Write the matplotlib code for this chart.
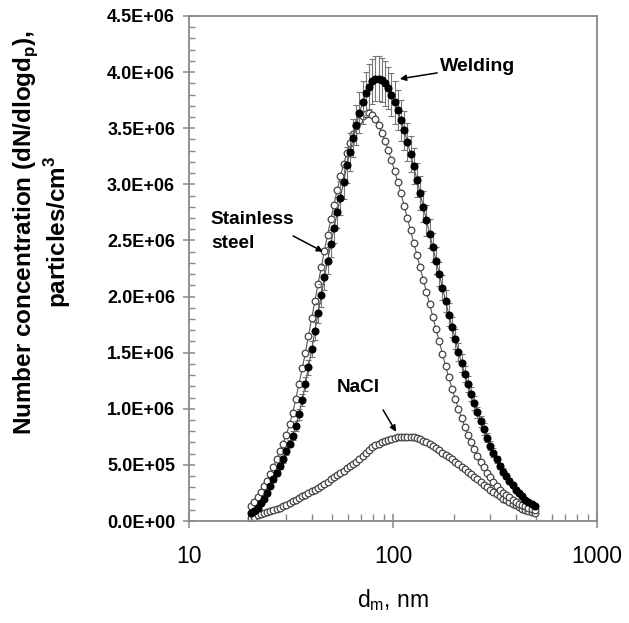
import matplotlib
matplotlib.use("Agg")
import matplotlib.pyplot as plt
from matplotlib.ticker import FuncFormatter, MultipleLocator, LogLocator, NullFormatter

plt.rcParams['font.family'] = ['Liberation Sans', 'DejaVu Sans']

# SMPS channel mid-point diameters (nm)
diam = [20.2, 20.9, 21.7, 22.5, 23.3, 24.1, 25.0, 25.9, 26.9, 27.9,
        28.9, 30.0, 31.1, 32.2, 33.4, 34.6, 35.9, 37.2, 38.5, 40.0,
        41.4, 42.9, 44.5, 46.1, 47.8, 49.6, 51.4, 53.3, 55.2, 57.3,
        59.4, 61.5, 63.8, 66.1, 68.5, 71.0, 73.7, 76.4, 79.1, 82.0,
        85.1, 88.2, 91.4, 94.7, 98.2, 101.8, 105.5, 109.4, 113.4, 117.6,
        121.9, 126.3, 131.0, 135.8, 140.7, 145.9, 151.2, 156.8, 162.5, 168.5,
        174.7, 181.1, 187.7, 194.6, 201.7, 209.1, 216.7, 224.7, 232.9, 241.4,
        250.3, 259.5, 269.0, 278.8, 289.0, 299.6, 310.6, 322.0, 333.8, 346.0,
        358.7, 371.8, 385.4, 399.5, 414.2, 429.4, 445.1, 461.4, 478.3, 495.8]

# values in units of 1e6 particles/cm3
welding = [0.07, 0.09, 0.12, 0.16, 0.20, 0.25, 0.31, 0.37, 0.43, 0.49,
           0.55, 0.62, 0.69, 0.76, 0.85, 0.95, 1.08, 1.22, 1.37, 1.53,
           1.69, 1.85, 2.01, 2.17, 2.32, 2.47, 2.61, 2.75, 2.88, 3.02,
           3.17, 3.29, 3.41, 3.53, 3.64, 3.73, 3.81, 3.87, 3.92, 3.94,
           3.94, 3.93, 3.90, 3.86, 3.80, 3.73, 3.66, 3.57, 3.48, 3.38,
           3.27, 3.16, 3.04, 2.92, 2.80, 2.68, 2.56, 2.44, 2.32, 2.20,
           2.08, 1.96, 1.84, 1.73, 1.62, 1.51, 1.41, 1.31, 1.22, 1.13,
           1.05, 0.97, 0.89, 0.82, 0.74, 0.67, 0.61, 0.55, 0.49, 0.44,
           0.40, 0.36, 0.32, 0.28, 0.25, 0.22, 0.19, 0.17, 0.15, 0.13]

welding_err = [0.01, 0.01, 0.01, 0.01, 0.01, 0.015, 0.015, 0.02, 0.02, 0.025,
               0.03, 0.03, 0.035, 0.04, 0.045, 0.05, 0.055, 0.06, 0.065, 0.07,
               0.08, 0.09, 0.10, 0.11, 0.12, 0.12, 0.13, 0.14, 0.15, 0.15,
               0.16, 0.17, 0.17, 0.18, 0.18, 0.19, 0.19, 0.20, 0.20, 0.20,
               0.20, 0.20, 0.20, 0.19, 0.19, 0.19, 0.18, 0.18, 0.17, 0.17,
               0.16, 0.16, 0.15, 0.15, 0.14, 0.14, 0.13, 0.13, 0.12, 0.11,
               0.11, 0.10, 0.10, 0.09, 0.09, 0.08, 0.08, 0.07, 0.07, 0.06,
               0.06, 0.05, 0.05, 0.05, 0.04, 0.04, 0.04, 0.03, 0.03, 0.03,
               0.03, 0.02, 0.02, 0.02, 0.02, 0.02, 0.01, 0.01, 0.01, 0.01]

stainless = [0.13, 0.17, 0.21, 0.26, 0.31, 0.36, 0.42, 0.48, 0.55, 0.62,
             0.69, 0.77, 0.86, 0.96, 1.09, 1.22, 1.36, 1.50, 1.65, 1.81,
             1.96, 2.11, 2.26, 2.41, 2.55, 2.69, 2.82, 2.95, 3.07, 3.18,
             3.28, 3.37, 3.45, 3.52, 3.57, 3.61, 3.63, 3.64, 3.62, 3.58,
             3.53, 3.46, 3.39, 3.31, 3.22, 3.12, 3.02, 2.92, 2.81, 2.70,
             2.59, 2.48, 2.37, 2.26, 2.15, 2.04, 1.93, 1.82, 1.71, 1.60,
             1.49, 1.38, 1.28, 1.18, 1.09, 1.00, 0.92, 0.84, 0.77, 0.70,
             0.64, 0.58, 0.53, 0.48, 0.43, 0.39, 0.35, 0.31, 0.28, 0.25,
             0.23, 0.21, 0.19, 0.17, 0.155, 0.14, 0.13, 0.12, 0.11, 0.10]

nacl = [0.03, 0.04, 0.05, 0.06, 0.07, 0.08, 0.09, 0.10, 0.11, 0.12,
        0.13, 0.145, 0.16, 0.175, 0.19, 0.205, 0.22, 0.235, 0.25, 0.265,
        0.28, 0.295, 0.31, 0.33, 0.35, 0.37, 0.39, 0.41, 0.43, 0.45,
        0.47, 0.49, 0.51, 0.53, 0.55, 0.58, 0.61, 0.635, 0.655, 0.675,
        0.69, 0.705, 0.715, 0.725, 0.733, 0.74, 0.745, 0.75, 0.752, 0.752,
        0.75, 0.745, 0.738, 0.728, 0.716, 0.70, 0.685, 0.67, 0.65, 0.63,
        0.61, 0.59, 0.57, 0.55, 0.53, 0.51, 0.48, 0.46, 0.44, 0.415,
        0.39, 0.37, 0.345, 0.32, 0.30, 0.28, 0.26, 0.24, 0.22, 0.20,
        0.185, 0.17, 0.155, 0.14, 0.125, 0.11, 0.10, 0.09, 0.08, 0.07]

SCALE = 1e6

fig = plt.figure(figsize=(6.29, 6.23), dpi=100)
ax = fig.add_axes([189/629, 1-521/623, (597-189)/629, (521-16)/623])

ax.set_xscale('log')
ax.set_xlim(10, 1000)
ax.set_ylim(0, 4.5e6)

sv = [v*SCALE for v in stainless]
nv = [v*SCALE for v in nacl]
wv = [v*SCALE for v in welding]
we = [v*SCALE for v in welding_err]

ax.plot(diam, nv, '-', color='#555555', lw=0.8, marker='o', ms=4.8,
        mfc='white', mec='#444444', mew=0.9, zorder=2)
ax.plot(diam, sv, '-', color='#555555', lw=0.8, marker='o', ms=4.8,
        mfc='white', mec='#444444', mew=0.9, zorder=3)
ax.errorbar(diam, wv, yerr=we, fmt='-o', color='#555555', lw=0.8,
            ms=4.8, mfc='black', mec='black', ecolor='#777777',
            elinewidth=0.8, capsize=2.5, capthick=0.8, zorder=4)

for s in ax.spines.values():
    s.set_color('#888888')
    s.set_linewidth(1.3)

ax.yaxis.set_major_locator(MultipleLocator(0.5e6))
ax.yaxis.set_minor_locator(MultipleLocator(0.1e6))
ax.yaxis.set_major_formatter(FuncFormatter(lambda v, p: f"{v:.1E}"))
ax.xaxis.set_major_locator(LogLocator(base=10, numticks=5))
ax.xaxis.set_minor_locator(LogLocator(base=10, subs=range(2, 10), numticks=20))
ax.xaxis.set_minor_formatter(NullFormatter())
ax.xaxis.set_major_formatter(FuncFormatter(lambda v, p: f"{v:.0f}"))

ax.tick_params(axis='y', which='major', direction='inout', length=8,
               width=1.1, color='#888888', labelsize=13, pad=6)
ax.tick_params(axis='y', which='minor', direction='in', length=4,
               width=1.0, color='#888888')
ax.tick_params(axis='x', which='major', direction='inout', length=10,
               width=1.1, color='#888888', labelsize=16.5, pad=12)
ax.tick_params(axis='x', which='minor', direction='in', length=5,
               width=1.0, color='#888888')
for lab in ax.get_yticklabels():
    lab.set_fontweight('bold')

ax.set_xlabel(r'd$_\mathregular{m}$, nm', fontsize=16.5, labelpad=14)

fig.text(42/629, 1-232/623,
         'Number concentration (dN/dlogd$_\\mathregular{p}$),\nparticles/cm$^\\mathregular{3}$',
         rotation=90, ha='center', va='center', fontsize=17.5,
         fontweight='bold', multialignment='center', linespacing=1.1)

arrow = dict(arrowstyle='-|>', color='black', lw=1.1, mutation_scale=9,
             shrinkA=0, shrinkB=0)
ax.annotate('Welding', xy=(108, 3.94e6), xytext=(170, 4.05e6),
            fontsize=14, fontweight='bold', ha='left', va='center',
            arrowprops=arrow)
ax.text(12.8, 2.58e6, 'Stainless\nsteel', fontsize=13.7, fontweight='bold',
        ha='left', va='center', linespacing=1.6)
ax.annotate('', xy=(45.4, 2.40e6), xytext=(32.4, 2.54e6), arrowprops=arrow)
ax.text(67.3, 1.19e6, 'NaCl', fontsize=13.7, fontweight='bold',
        ha='center', va='center')
ax.annotate('', xy=(103.5, 0.795e6), xytext=(89.4, 0.99e6), arrowprops=arrow)

fig.savefig('out.png', dpi=100)
